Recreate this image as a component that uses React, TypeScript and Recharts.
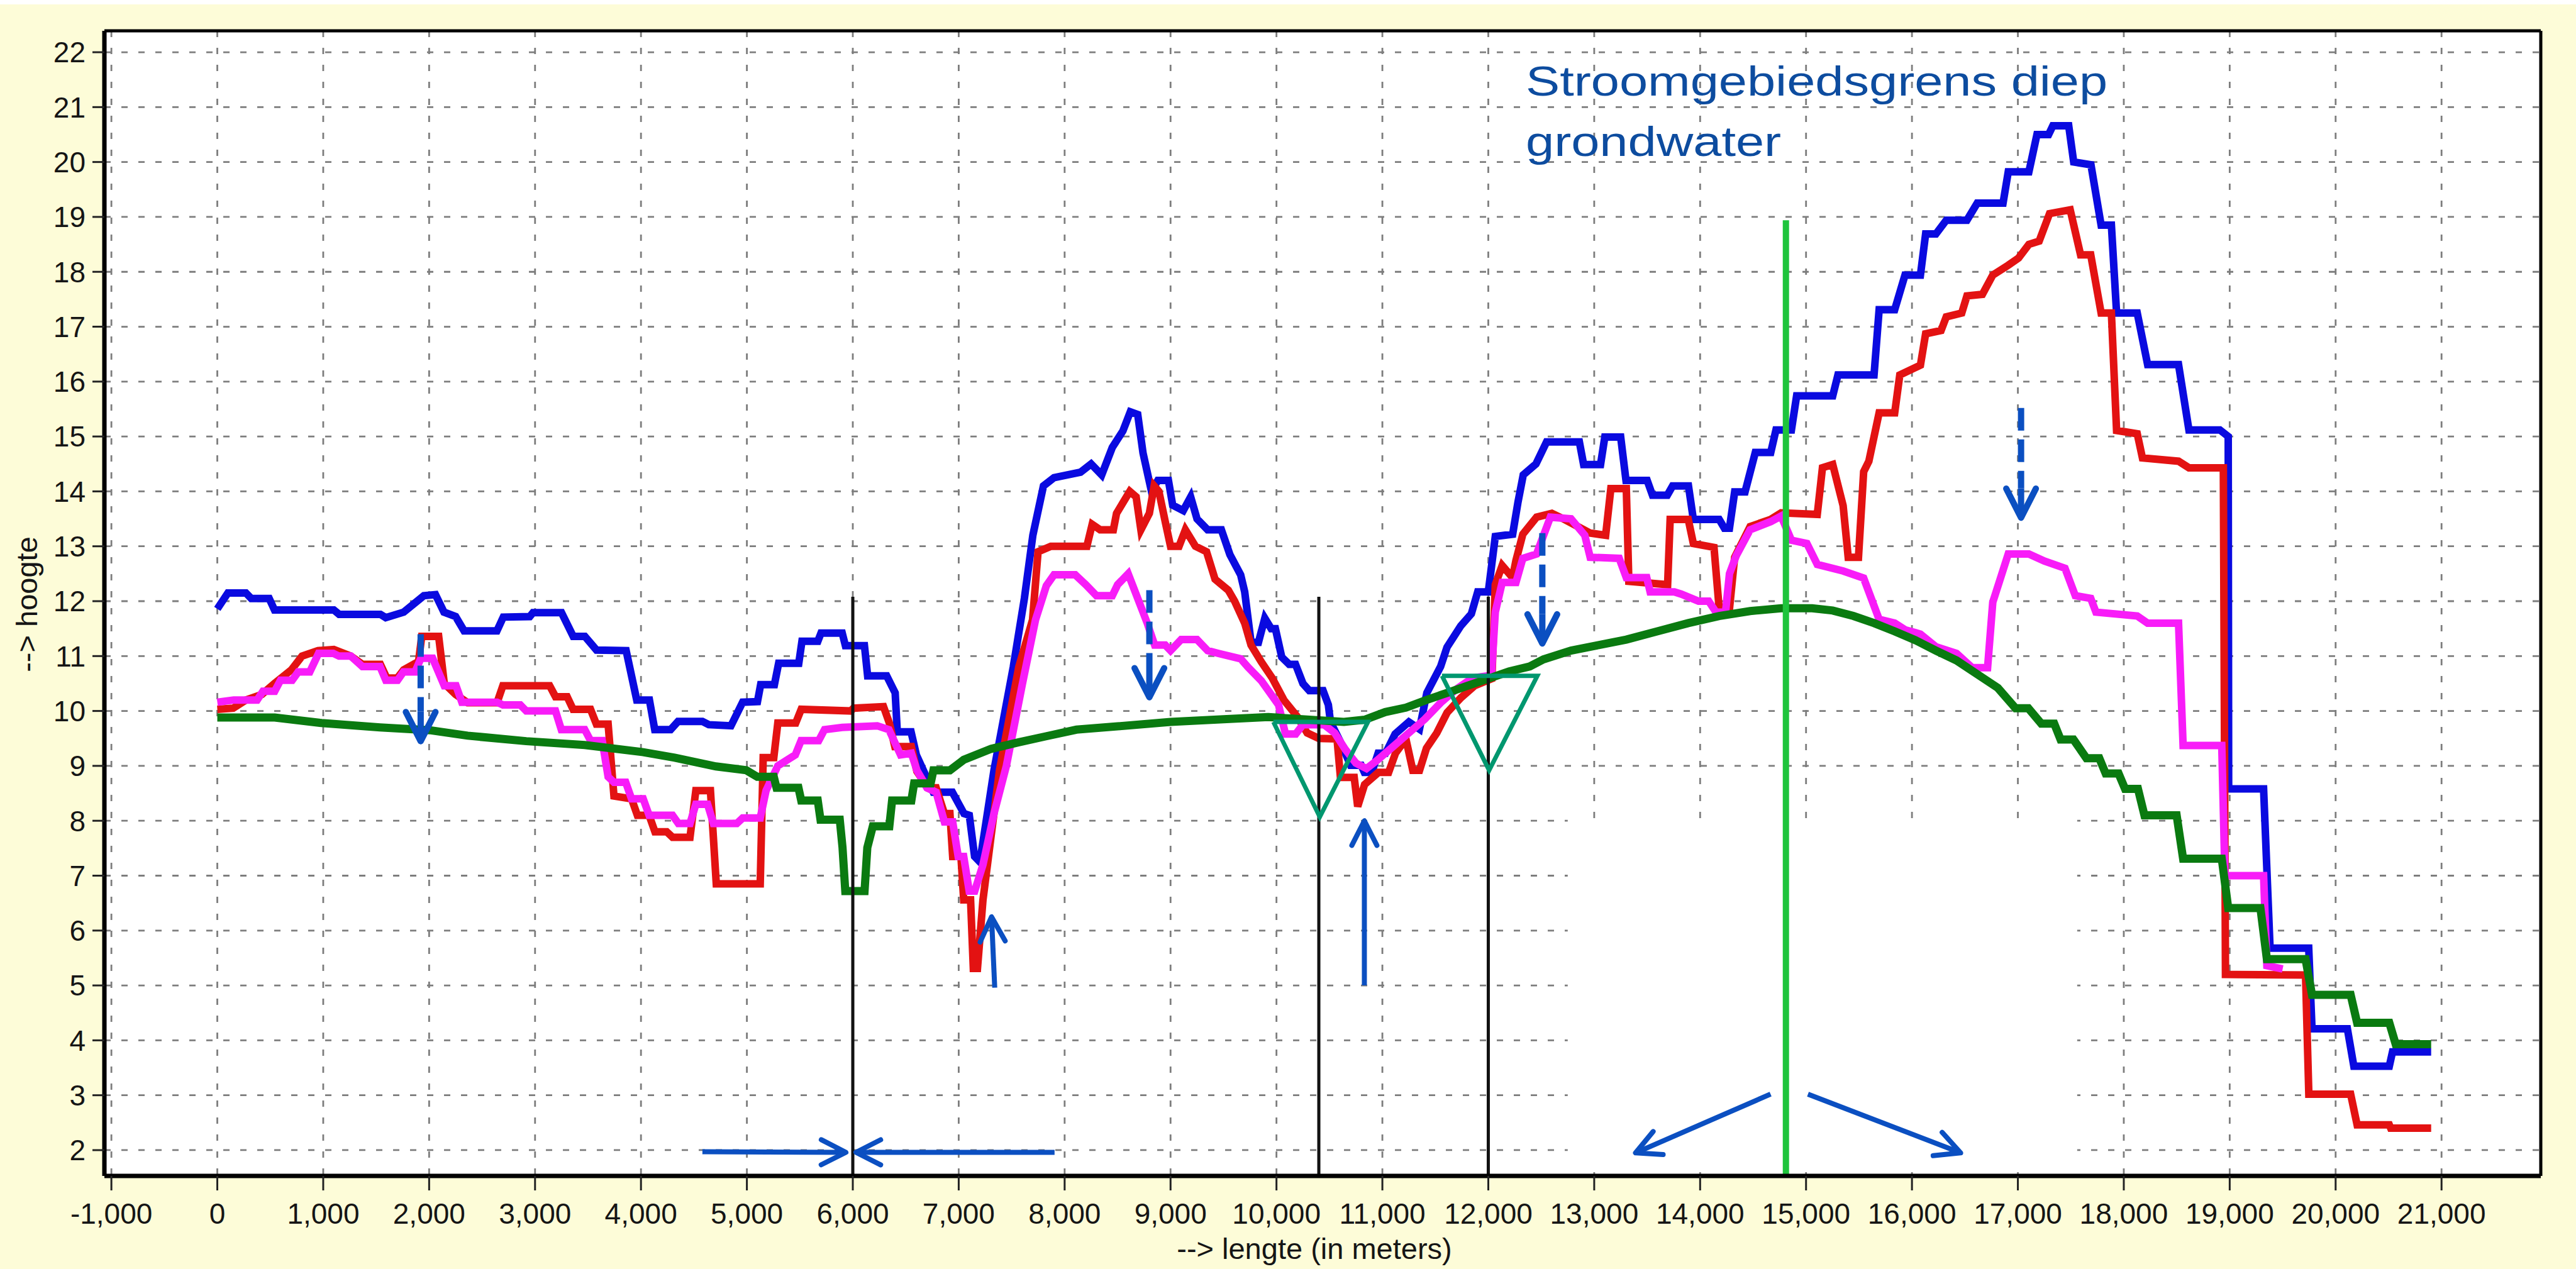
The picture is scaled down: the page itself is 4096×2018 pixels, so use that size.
import React from "react";
import {
  LineChart,
  Line,
  XAxis,
  YAxis,
  CartesianGrid,
  ReferenceArea,
  ReferenceLine,
} from "recharts";

const W = 4096;
const H = 2018;
const FONT = '"Liberation Sans", Arial, sans-serif';

const X_DOMAIN: [number, number] = [-1066, 21937];
const Y_DOMAIN: [number, number] = [1.53, 22.39];

// axis ticks
const xTicks = [
  -1000, 0, 1000, 2000, 3000, 4000, 5000, 6000, 7000, 8000, 9000, 10000, 11000,
  12000, 13000, 14000, 15000, 16000, 17000, 18000, 19000, 20000, 21000,
];
const yTicks = [2, 3, 4, 5, 6, 7, 8, 9, 10, 11, 12, 13, 14, 15, 16, 17, 18, 19, 20, 21, 22];

// profiel-lijnen [lengte, hoogte]
const blueLine: [number, number][] = [
  [0, 11.86], [100, 12.15], [270, 12.15], [320, 12.05], [490, 12.05], [540, 11.84], [1100, 11.84],
  [1150, 11.76], [1540, 11.76], [1590, 11.7], [1760, 11.8], [1950, 12.1], [2060, 12.12], [2140, 11.8],
  [2250, 11.72], [2330, 11.46], [2640, 11.46], [2700, 11.71], [2950, 11.72], [2980, 11.79], [3250, 11.79],
  [3360, 11.36], [3470, 11.36], [3580, 11.11], [3860, 11.1], [3960, 10.2], [4080, 10.2], [4130, 9.66],
  [4280, 9.66], [4350, 9.81], [4580, 9.81], [4640, 9.75], [4850, 9.73], [4960, 10.16], [5100, 10.17],
  [5130, 10.48], [5260, 10.48], [5300, 10.87], [5490, 10.87], [5520, 11.27], [5670, 11.27], [5700, 11.42],
  [5900, 11.42], [5930, 11.19], [6110, 11.19], [6140, 10.64], [6320, 10.64], [6400, 10.33], [6420, 9.62],
  [6550, 9.62], [6600, 9.2], [6760, 8.52], [6940, 8.52], [7050, 8.13], [7100, 8.1], [7150, 7.35],
  [7200, 7.25], [7333, 8.92], [7515, 10.8], [7620, 12.05], [7700, 13.2], [7800, 14.1], [7900, 14.25],
  [8150, 14.35], [8250, 14.5], [8350, 14.3], [8450, 14.8], [8550, 15.1], [8620, 15.45], [8690, 15.4],
  [8740, 14.7], [8820, 14.0], [8880, 14.2], [8980, 14.2], [9020, 13.75], [9120, 13.65], [9190, 13.9],
  [9250, 13.5], [9350, 13.3], [9480, 13.3], [9560, 12.85], [9662, 12.48], [9700, 12.17], [9760, 11.25],
  [9830, 11.25], [9890, 11.69], [9950, 11.5], [9990, 11.5], [10050, 10.98], [10120, 10.85], [10180, 10.85],
  [10250, 10.5], [10310, 10.37], [10440, 10.37], [10490, 10.11], [10510, 9.8], [10600, 9.45], [10700, 9.01],
  [10800, 9.01], [10830, 8.88], [10900, 8.88], [10960, 9.23], [11030, 9.23], [11120, 9.58], [11250, 9.8],
  [11350, 9.67], [11420, 10.33], [11550, 10.81], [11610, 11.16], [11740, 11.55], [11840, 11.77],
  [11900, 12.17], [12000, 12.17], [12066, 13.18], [12230, 13.22], [12280, 13.8], [12330, 14.3],
  [12450, 14.5], [12550, 14.9], [12860, 14.9], [12900, 14.49], [13060, 14.49], [13100, 14.99],
  [13250, 14.99], [13300, 14.2], [13500, 14.2], [13550, 13.93], [13690, 13.93], [13740, 14.1],
  [13890, 14.1], [13936, 13.49], [14180, 13.49], [14229, 13.33], [14277, 13.33], [14326, 13.99],
  [14424, 13.99], [14521, 14.71], [14667, 14.71], [14716, 15.12], [14862, 15.12], [14911, 15.74],
  [15252, 15.74], [15301, 16.12], [15642, 16.12], [15690, 17.31], [15837, 17.31], [15934, 17.94],
  [16080, 17.94], [16129, 18.69], [16226, 18.69], [16324, 18.94], [16519, 18.94], [16616, 19.25],
  [16860, 19.25], [16909, 19.82], [17104, 19.82], [17180, 20.5], [17290, 20.5], [17330, 20.66],
  [17480, 20.66], [17527, 20.0], [17690, 19.95], [17786, 18.85], [17883, 18.85], [17932, 17.25],
  [18127, 17.25], [18225, 16.31], [18517, 16.31], [18615, 15.12], [18907, 15.12], [18986, 15.0],
  [18990, 8.58], [19320, 8.58], [19381, 5.68], [19746, 5.68], [19777, 4.21], [20111, 4.21],
  [20172, 3.53], [20507, 3.53], [20537, 3.79], [20902, 3.79],
];

const redLine: [number, number][] = [
  [0, 10.03], [150, 10.05], [270, 10.2], [420, 10.3], [540, 10.5], [700, 10.75], [800, 11.0], [950, 11.1],
  [1100, 11.12], [1260, 11.0], [1370, 10.85], [1540, 10.85], [1600, 10.6], [1700, 10.6], [1760, 10.75],
  [1900, 10.9], [1930, 11.36], [2090, 11.36], [2143, 10.5], [2250, 10.3], [2364, 10.15], [2641, 10.15],
  [2696, 10.46], [3138, 10.46], [3193, 10.26], [3303, 10.26], [3359, 10.03], [3524, 10.03], [3579, 9.76],
  [3690, 9.76], [3745, 8.45], [3911, 8.4], [3966, 8.1], [4077, 8.1], [4132, 7.8], [4243, 7.8], [4298, 7.7],
  [4463, 7.7], [4518, 8.55], [4656, 8.55], [4711, 6.85], [5126, 6.85], [5154, 9.15], [5254, 9.15],
  [5292, 9.78], [5461, 9.78], [5513, 10.03], [5981, 10.0], [6007, 10.05], [6290, 10.08], [6345, 9.78],
  [6397, 9.35], [6553, 9.35], [6605, 8.9], [6709, 8.6], [6787, 8.6], [6865, 8.13], [6917, 8.13],
  [6943, 7.35], [7021, 7.35], [7047, 6.56], [7112, 6.56], [7138, 5.31], [7177, 5.31], [7229, 6.56],
  [7281, 7.35], [7385, 8.92], [7567, 10.8], [7697, 11.66], [7749, 12.9], [7870, 13.0], [8210, 13.0],
  [8260, 13.4], [8335, 13.3], [8460, 13.3], [8490, 13.6], [8615, 14.0], [8675, 13.9], [8720, 13.3],
  [8800, 13.6], [8845, 14.1], [8890, 14.0], [8955, 13.4], [9000, 13.0], [9080, 13.0], [9140, 13.3],
  [9235, 13.0], [9340, 12.9], [9420, 12.4], [9545, 12.2], [9605, 12.0], [9700, 11.6], [9760, 11.2],
  [9855, 10.9], [9960, 10.6], [10070, 10.2], [10195, 9.9], [10290, 9.6], [10400, 9.5], [10572, 9.49],
  [10604, 8.79], [10734, 8.79], [10767, 8.26], [10832, 8.66], [10962, 8.88], [11059, 8.88], [11124, 9.23],
  [11222, 9.49], [11287, 8.92], [11351, 8.92], [11416, 9.32], [11514, 9.6], [11611, 9.97], [11741, 10.24],
  [11871, 10.46], [12034, 10.59], [12066, 12.3], [12131, 12.65], [12229, 12.43], [12261, 12.74],
  [12326, 13.22], [12456, 13.53], [12600, 13.6], [12718, 13.49], [12962, 13.24], [13108, 13.2],
  [13157, 14.05], [13303, 14.05], [13327, 12.36], [13693, 12.3], [13717, 13.49], [13888, 13.49],
  [13936, 13.05], [14131, 12.98], [14180, 11.86], [14277, 11.86], [14326, 12.8], [14472, 13.36],
  [14667, 13.49], [14765, 13.61], [15106, 13.58], [15155, 14.43], [15252, 14.49], [15350, 13.74],
  [15398, 12.8], [15495, 12.8], [15544, 14.36], [15593, 14.55], [15690, 15.43], [15837, 15.43],
  [15885, 16.12], [16080, 16.3], [16129, 16.87], [16275, 16.93], [16324, 17.18], [16470, 17.25],
  [16519, 17.56], [16665, 17.59], [16763, 17.94], [16909, 18.12], [17006, 18.25], [17104, 18.5],
  [17201, 18.56], [17299, 19.06], [17494, 19.13], [17592, 18.31], [17688, 18.31], [17786, 17.25],
  [17883, 17.25], [17932, 15.11], [18127, 15.05], [18176, 14.61], [18517, 14.55], [18615, 14.43],
  [18940, 14.43], [18960, 5.2], [19716, 5.19], [19747, 3.02], [20142, 3.02], [20203, 2.46],
  [20507, 2.46], [20520, 2.4], [20902, 2.4],
];

const magentaLine: [number, number][] = [
  [0, 10.16], [155, 10.2], [376, 10.2], [431, 10.36], [542, 10.36], [597, 10.56], [707, 10.56],
  [763, 10.71], [873, 10.71], [956, 11.05], [1094, 11.05], [1149, 11.0], [1260, 11.0], [1370, 10.81],
  [1536, 10.81], [1591, 10.56], [1702, 10.56], [1757, 10.71], [1867, 10.71], [1922, 10.96], [2033, 10.96],
  [2143, 10.46], [2254, 10.46], [2309, 10.16], [2641, 10.16], [2696, 10.11], [2861, 10.11], [2917, 10.0],
  [3193, 10.0], [3248, 9.66], [3469, 9.66], [3524, 9.46], [3634, 9.46], [3690, 8.8], [3745, 8.7],
  [3856, 8.7], [3911, 8.4], [4021, 8.4], [4077, 8.1], [4298, 8.1], [4353, 7.95], [4463, 7.95], [4518, 8.3],
  [4629, 8.3], [4684, 7.95], [4905, 7.95], [4960, 8.05], [5126, 8.05], [5181, 8.55], [5292, 9.0],
  [5457, 9.2], [5512, 9.46], [5678, 9.46], [5733, 9.66], [5899, 9.7], [6231, 9.73], [6341, 9.66],
  [6451, 9.2], [6553, 9.23], [6605, 8.92], [6700, 8.6], [6787, 8.52], [6865, 7.98], [6943, 7.98],
  [6995, 7.35], [7047, 7.35], [7099, 6.72], [7151, 6.72], [7229, 7.2], [7333, 8.13], [7450, 9.0],
  [7600, 10.48], [7725, 11.66], [7827, 12.28], [7900, 12.48], [8100, 12.48], [8200, 12.3], [8300, 12.1],
  [8450, 12.1], [8500, 12.3], [8600, 12.5], [8700, 12.0], [8780, 11.6], [8850, 11.2], [8950, 11.2],
  [9000, 11.1], [9100, 11.3], [9250, 11.3], [9350, 11.1], [9450, 11.05], [9662, 10.95], [9730, 10.8],
  [9857, 10.55], [10020, 10.11], [10085, 9.58], [10182, 9.58], [10250, 9.75], [10450, 9.75], [10550, 9.6],
  [10650, 9.3], [10750, 9.05], [10850, 8.95], [10950, 9.1], [11100, 9.35], [11250, 9.6], [11400, 9.85],
  [11550, 10.15], [11700, 10.4], [11850, 10.6], [12030, 10.65], [12066, 11.8], [12131, 12.34],
  [12261, 12.34], [12326, 12.78], [12456, 12.86], [12586, 13.53], [12781, 13.5], [12911, 13.2],
  [12962, 12.8], [13236, 12.78], [13303, 12.43], [13496, 12.43], [13528, 12.17], [13756, 12.17],
  [13821, 12.13], [13985, 12.0], [14081, 12.0], [14150, 11.8], [14240, 11.8], [14277, 12.5],
  [14341, 12.83], [14472, 13.3], [14536, 13.35], [14667, 13.45], [14765, 13.55], [14862, 13.11],
  [15008, 13.05], [15106, 12.67], [15350, 12.55], [15544, 12.42], [15690, 11.67], [15837, 11.6],
  [15934, 11.48], [16080, 11.4], [16226, 11.17], [16421, 11.05], [16568, 10.79], [16714, 10.79],
  [16763, 11.98], [16909, 12.86], [17104, 12.86], [17250, 12.73], [17445, 12.6], [17542, 12.1],
  [17688, 12.05], [17737, 11.8], [18127, 11.73], [18225, 11.6], [18517, 11.6], [18560, 9.37],
  [18925, 9.37], [18955, 7.0], [19320, 7.0], [19351, 5.36], [19500, 5.3],
];

const greenLine: [number, number][] = [
  [0, 9.88], [542, 9.88], [984, 9.78], [1536, 9.7], [2005, 9.65], [2364, 9.55], [2917, 9.45], [3469, 9.38],
  [4021, 9.25], [4318, 9.15], [4708, 8.99], [4994, 8.92], [5098, 8.8], [5254, 8.8], [5280, 8.6],
  [5487, 8.6], [5513, 8.37], [5669, 8.37], [5695, 8.02], [5877, 8.02], [5903, 7.51], [5929, 6.72],
  [6111, 6.72], [6137, 7.51], [6189, 7.9], [6345, 7.9], [6371, 8.37], [6553, 8.37], [6579, 8.68],
  [6735, 8.68], [6761, 8.92], [6917, 8.92], [7047, 9.11], [7307, 9.31], [7567, 9.43], [7827, 9.54],
  [8112, 9.66], [8500, 9.72], [9000, 9.8], [9500, 9.85], [9922, 9.89], [10312, 9.84], [10637, 9.8],
  [10832, 9.84], [11027, 9.98], [11222, 10.06], [11416, 10.2], [11611, 10.33], [11806, 10.46],
  [12001, 10.59], [12196, 10.72], [12391, 10.81], [12521, 10.94], [12781, 11.1], [13041, 11.2],
  [13303, 11.3], [13595, 11.45], [13888, 11.6], [14180, 11.73], [14472, 11.82], [14765, 11.87],
  [15057, 11.87], [15252, 11.83], [15447, 11.73], [15642, 11.6], [15837, 11.45], [16031, 11.29],
  [16226, 11.1], [16421, 10.92], [16616, 10.67], [16811, 10.42], [16978, 10.05], [17099, 10.05],
  [17221, 9.77], [17343, 9.77], [17403, 9.48], [17525, 9.48], [17647, 9.14], [17769, 9.14],
  [17829, 8.86], [17951, 8.86], [18012, 8.58], [18134, 8.58], [18195, 8.1], [18499, 8.1], [18560, 7.31],
  [18925, 7.31], [18986, 6.41], [19290, 6.41], [19351, 5.48], [19716, 5.48], [19777, 4.83],
  [20142, 4.83], [20203, 4.32], [20507, 4.32], [20567, 3.93], [20902, 3.93],
];

// annotaties
const triangleA: [number, number][] = [[9971, 9.8], [10864, 9.8], [10409, 8.07], [9971, 9.8]];
const triangleB: [number, number][] = [[11563, 10.64], [12463, 10.64], [12008, 8.92], [11563, 10.64]];
const blackMarkers = [6000, 10400, 12000];
const blackMarkerTop = 12.08;
const divideX = 14810;
const divideTop = 18.94;
const blankBox = { x1: 12750, x2: 17560, y1: 1.6, y2: 8.03 };

const dashedArrows: [number, number, number, number][] = [
  [1920, 11.4, 1920, 9.45],
  [8800, 12.2, 8800, 10.25],
  [12510, 13.24, 12510, 11.23],
  [17030, 15.52, 17030, 13.52],
];
const solidArrows: [number, number, number, number][] = [
  [7340, 4.96, 7310, 6.25],
  [10830, 5.0, 10830, 8.0],
  [4580, 1.97, 5935, 1.96],
  [7905, 1.96, 6030, 1.96],
  [14665, 3.02, 13390, 1.95],
  [15018, 3.02, 16460, 1.95],
];

const BG = "#FDFCD8";
const BLUE = "#0A0AE0";
const RED = "#E31212";
const MAGENTA = "#F81CF8";
const GREEN = "#0A7A10";
const LIME = "#1EC43C";
const TEAL = "#00976F";
const ARROW = "#0B4FC1";
const NOTE = "#0D4C9F";

const toPts = (arr: [number, number][]) => arr.map(([x, y]) => ({ x, y }));

const xMinor = xTicks.slice(0, -1).flatMap((t) => [t + 250, t + 500, t + 750]);
const yMinor = yTicks.slice(0, -1).flatMap((t) => [t + 0.25, t + 0.5, t + 0.75]);

const Arrow = (p: any) => {
  const { x1, y1, x2, y2, color, width, dash, head } = p;
  const ang = Math.atan2(y2 - y1, x2 - x1);
  const spread = 0.47;
  const hx1 = x2 - head * Math.cos(ang - spread);
  const hy1 = y2 - head * Math.sin(ang - spread);
  const hx2 = x2 - head * Math.cos(ang + spread);
  const hy2 = y2 - head * Math.sin(ang + spread);
  const len = Math.hypot(x2 - x1, y2 - y1);
  const cut = dash ? head * 0.9 : 0;
  const sx = x2 - (cut / len) * (x2 - x1);
  const sy = y2 - (cut / len) * (y2 - y1);
  return (
    <g>
      <line
        x1={x1}
        y1={y1}
        x2={sx}
        y2={sy}
        stroke={color}
        strokeWidth={width}
        strokeDasharray={dash}
      />
      {dash ? (
        <line x1={sx} y1={sy} x2={x2} y2={y2} stroke={color} strokeWidth={width} />
      ) : null}
      <polyline
        points={`${hx1},${hy1} ${x2},${y2} ${hx2},${hy2}`}
        fill="none"
        stroke={color}
        strokeWidth={width}
        strokeLinecap="round"
        strokeLinejoin="round"
      />
    </g>
  );
};

const tickFont = { fontSize: 46, fill: "#151515", fontFamily: FONT };

const App: React.FC = () => {
  return (
    <div
      style={{
        position: "absolute",
        left: 0,
        top: 0,
        width: W,
        height: H,
        background: BG,
        overflow: "hidden",
        fontFamily: FONT,
      }}
    >
      <div style={{ position: "absolute", left: 0, top: 0, width: W, height: 7, background: "#fff" }} />
      <div style={{ position: "absolute", left: 0, top: 0 }}>
        <LineChart width={W} height={H} margin={{ top: 48, right: 55, bottom: 146, left: 164 }}>
          <CartesianGrid
            xAxisId="main"
            yAxisId="main"
            fill="#fff"
            stroke="#7d7d7d"
            strokeWidth={2.8}
            strokeDasharray="10 17"
          />
          <ReferenceArea
            xAxisId="main"
            yAxisId="main"
            x1={blankBox.x1}
            x2={blankBox.x2}
            y1={blankBox.y1}
            y2={blankBox.y2}
            fill="#fff"
            fillOpacity={1}
            stroke="none"
          />

          <Line xAxisId="main" yAxisId="main" data={toPts(blueLine)} dataKey="y" type="linear"
            stroke={BLUE} strokeWidth={12} dot={false} activeDot={false} isAnimationActive={false} />
          <Line xAxisId="main" yAxisId="main" data={toPts(redLine)} dataKey="y" type="linear"
            stroke={RED} strokeWidth={12} dot={false} activeDot={false} isAnimationActive={false} />
          <Line xAxisId="main" yAxisId="main" data={toPts(magentaLine)} dataKey="y" type="linear"
            stroke={MAGENTA} strokeWidth={12} dot={false} activeDot={false} isAnimationActive={false} />
          <Line xAxisId="main" yAxisId="main" data={toPts(greenLine)} dataKey="y" type="linear"
            stroke={GREEN} strokeWidth={13} dot={false} activeDot={false} isAnimationActive={false} />

          {blackMarkers.map((mx) => (
            <Line key={`bm${mx}`} xAxisId="main" yAxisId="main"
              data={toPts([[mx, blackMarkerTop], [mx, Y_DOMAIN[0]]])} dataKey="y" type="linear"
              stroke="#111" strokeWidth={5} dot={false} activeDot={false} isAnimationActive={false} />
          ))}
          <Line xAxisId="main" yAxisId="main" data={toPts([[divideX, divideTop], [divideX, Y_DOMAIN[0]]])}
            dataKey="y" type="linear" stroke={LIME} strokeWidth={10} dot={false} activeDot={false}
            isAnimationActive={false} />
          <Line xAxisId="main" yAxisId="main" data={toPts(triangleA)} dataKey="y" type="linear"
            stroke={TEAL} strokeWidth={7} dot={false} activeDot={false} isAnimationActive={false} />
          <Line xAxisId="main" yAxisId="main" data={toPts(triangleB)} dataKey="y" type="linear"
            stroke={TEAL} strokeWidth={7} dot={false} activeDot={false} isAnimationActive={false} />

          {dashedArrows.map(([ax, ay, bx, by], i) => (
            <ReferenceLine key={`da${i}`} xAxisId="main" yAxisId="main"
              segment={[{ x: ax, y: ay }, { x: bx, y: by }]}
              shape={(p: any) => <Arrow {...p} color={ARROW} width={10} dash="36 14" head={52} />} />
          ))}
          {solidArrows.map(([ax, ay, bx, by], i) => (
            <ReferenceLine key={`sa${i}`} xAxisId="main" yAxisId="main"
              segment={[{ x: ax, y: ay }, { x: bx, y: by }]}
              shape={(p: any) => <Arrow {...p} color={ARROW} width={8} head={44} />} />
          ))}

          <XAxis xAxisId="main" type="number" dataKey="x" domain={X_DOMAIN} allowDataOverflow
            ticks={xTicks} interval={0} height={1} tickSize={23} tickMargin={20}
            axisLine={{ stroke: "#000", strokeWidth: 7 }}
            tickLine={{ stroke: "#222", strokeWidth: 3 }}
            tick={tickFont}
            tickFormatter={(v: number) => v.toLocaleString("en-US")} />
          <XAxis xAxisId="minor" type="number" dataKey="x" domain={X_DOMAIN} allowDataOverflow
            ticks={xMinor} interval={0} height={1} tickSize={13} tick={false} axisLine={false}
            tickLine={{ stroke: "#222", strokeWidth: 3 }} />
          <XAxis xAxisId="top" orientation="top" type="number" dataKey="x" domain={X_DOMAIN}
            allowDataOverflow height={1} tick={false} tickLine={false}
            axisLine={{ stroke: "#000", strokeWidth: 5 }} />
          <YAxis yAxisId="main" type="number" domain={Y_DOMAIN} allowDataOverflow ticks={yTicks}
            interval={0} width={1} tickSize={19} tickMargin={11}
            axisLine={{ stroke: "#000", strokeWidth: 7 }}
            tickLine={{ stroke: "#222", strokeWidth: 3 }}
            tick={tickFont} />
          <YAxis yAxisId="minor" type="number" domain={Y_DOMAIN} allowDataOverflow ticks={yMinor}
            interval={0} width={1} tickSize={11} tick={false} axisLine={false}
            tickLine={{ stroke: "#222", strokeWidth: 3 }} />
          <YAxis yAxisId="right" orientation="right" type="number" domain={Y_DOMAIN} allowDataOverflow
            width={1} tick={false} tickLine={false} axisLine={{ stroke: "#000", strokeWidth: 5 }} />
        </LineChart>
      </div>

      <div
        style={{
          position: "absolute",
          left: 2426,
          top: 81,
          color: NOTE,
          fontSize: 66,
          lineHeight: "96px",
          whiteSpace: "nowrap",
          transform: "scaleX(1.23)",
          transformOrigin: "0 0",
        }}
      >
        Stroomgebiedsgrens diep
        <br />
        grondwater
      </div>

      <div
        style={{
          position: "absolute",
          left: 1590,
          width: 1000,
          top: 1962,
          textAlign: "center",
          fontSize: 47,
          lineHeight: "47px",
          color: "#151515",
          whiteSpace: "nowrap",
        }}
      >
        --&gt; lengte (in meters)
      </div>
      <div
        style={{
          position: "absolute",
          left: 42,
          top: 961,
          transform: "translate(-50%, -50%) rotate(-90deg)",
          fontSize: 47,
          lineHeight: "47px",
          color: "#151515",
          whiteSpace: "nowrap",
        }}
      >
        --&gt; hoogte
      </div>
    </div>
  );
};

export default App;
